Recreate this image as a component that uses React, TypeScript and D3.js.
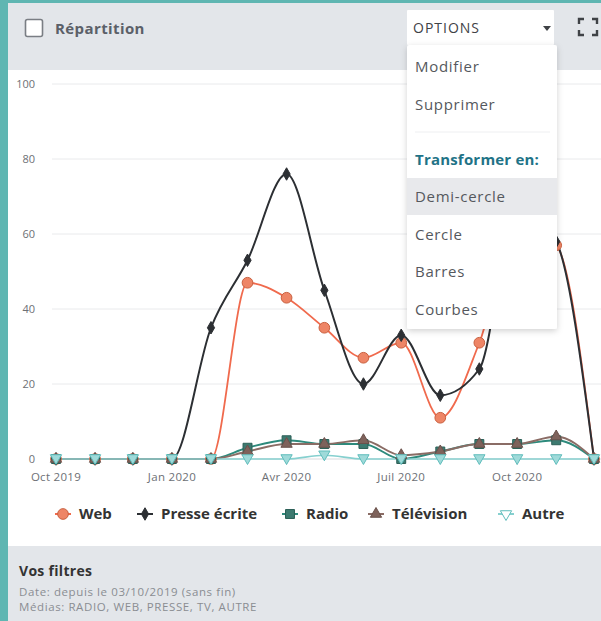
import React from "react";
import * as d3 from "d3";

const monthDates = [
  "2019-10-01", "2019-11-01", "2019-12-01", "2020-01-01", "2020-02-01",
  "2020-03-01", "2020-04-01", "2020-05-01", "2020-06-01", "2020-07-01",
  "2020-08-01", "2020-09-01", "2020-10-01", "2020-11-01", "2020-12-01",
];
const webValues = [0, 0, 0, 0, 0, 47, 43, 35, 27, 31, 11, 31, 62, 57, 0];
const presseValues = [0, 0, 0, 0, 35, 53, 76, 45, 20, 33, 17, 24, 68, 58, 0];
const radioValues = [0, 0, 0, 0, 0, 3, 5, 4, 4, 0, 2, 4, 4, 5, 0];
const tvValues = [0, 0, 0, 0, 0, 2, 4, 4, 5, 1, 2, 4, 4, 6, 0];
const autreValues = [0, 0, 0, 0, 0, 0, 0, 1, 0, 0, 0, 0, 0, 0, 0];

const yTicks = [0, 20, 40, 60, 80, 100];
const xTickDates = ["2019-10-01", "2020-01-01", "2020-04-01", "2020-07-01", "2020-10-01"];
const xTickLabels = ["Oct 2019", "Jan 2020", "Avr 2020", "Juil 2020", "Oct 2020"];

const seriesNames = ["Web", "Presse écrite", "Radio", "Télévision", "Autre"];
const menuTop = ["Modifier", "Supprimer"];
const menuHeading = "Transformer en:";
const menuTypes = ["Demi-cercle", "Cercle", "Barres", "Courbes"];
const filterLines = ["Date: depuis le 03/10/2019 (sans fin)", "Médias: RADIO, WEB, PRESSE, TV, AUTRE"];

const FONT = "'Open Sans', 'Noto Sans', sans-serif";

type Series = {
  name: string;
  values: number[];
  line: string;
  fill: string;
  stroke: string;
  symbol: d3.SymbolType;
  size: number;
  rotate: number;
  width: number;
};

const series: Series[] = [
  { name: seriesNames[0], values: webValues, line: "#f06a4d", fill: "#ee8566", stroke: "#c9603f", symbol: d3.symbolCircle, size: 90, rotate: 0, width: 1.8 },
  { name: seriesNames[1], values: presseValues, line: "#2c2f33", fill: "#2c2f33", stroke: "#2c2f33", symbol: d3.symbolDiamond, size: 45, rotate: 0, width: 2 },
  { name: seriesNames[2], values: radioValues, line: "#2d8a7c", fill: "#3d7a70", stroke: "#2b5f57", symbol: d3.symbolSquare, size: 80, rotate: 0, width: 2 },
  { name: seriesNames[3], values: tvValues, line: "#8a6c65", fill: "#7e625b", stroke: "#6a514b", symbol: d3.symbolTriangle, size: 55, rotate: 0, width: 2 },
  { name: seriesNames[4], values: autreValues, line: "#86d0cf", fill: "#9fdad9", stroke: "#5fbdbc", symbol: d3.symbolTriangle, size: 55, rotate: 180, width: 1.6 },
];

const legendX = [63, 145, 290, 376, 506];

export default function App() {
  const W = 601;
  const H = 621;
  const parse = d3.timeParse("%Y-%m-%d");
  const dates = monthDates.map((d) => parse(d) as Date);

  const x = d3.scaleTime().domain([dates[0], dates[dates.length - 1]]).range([56, 594]);
  const y = d3.scaleLinear().domain([0, 100]).range([459, 84]);

  const line = d3
    .line<number>()
    .x((_, i) => x(dates[i]))
    .y((v) => y(v))
    .curve(d3.curveMonotoneX);

  const sym = (s: Series) => d3.symbol().type(s.symbol).size(s.size)() as string;

  return (
    <svg width={W} height={H} style={{ position: "absolute", left: 0, top: 0 }} fontFamily={FONT}>
      <defs>
        <filter id="shadow" x="-20%" y="-10%" width="140%" height="130%">
          <feDropShadow dx="0" dy="2" stdDeviation="3" floodColor="#000" floodOpacity="0.18" />
        </filter>
      </defs>
      <rect x={0} y={0} width={W} height={H} fill="#5fb6b2" />
      <rect x={8} y={3} width={W - 8} height={H - 3} fill="#ffffff" />
      {/* header */}
      <rect x={8} y={3} width={W - 8} height={67} fill="#e3e6ea" />
      <rect x={25.5} y={19.5} width={17} height={17} rx={2} fill="#fff" stroke="#7a7e84" strokeWidth={1.6} />
      <text x={55} y={33.5} fontSize={15} fontWeight={700} fill="#5b6068" letterSpacing={0.4}>Répartition</text>
      <rect x={407} y={10} width={147} height={35} fill="#ffffff" rx={1} />
      <text x={413} y={33} fontSize={14} fill="#3f4246" letterSpacing={1}>OPTIONS</text>
      <path d="M543,26 L551,26 L547,31 Z" fill="#3f4246" />
      <g stroke="#3f4246" strokeWidth={2.4} fill="none">
        <path d="M579,24 L579,19 L584,19" />
        <path d="M592,19 L597,19 L597,24" />
        <path d="M579,30 L579,35 L584,35" />
        <path d="M592,35 L597,35 L597,30" />
      </g>

      {/* grid */}
      {yTicks.map((t) => (
        <g key={t}>
          {t > 0 && <line x1={52} x2={W} y1={y(t)} y2={y(t)} stroke="#e9eaec" strokeWidth={1} />}
          <text x={35} y={y(t) + 4} fontSize={11} fill="#6d7075" textAnchor="end">{t}</text>
        </g>
      ))}
      <line x1={52} x2={W} y1={y(0)} y2={y(0)} stroke="#d8dadd" strokeWidth={1} />
      {xTickDates.map((d, i) => {
        const xx = x(parse(d) as Date);
        return (
          <g key={d}>
            <line x1={xx} x2={xx} y1={y(0)} y2={y(0) + 6} stroke="#d8dadd" />
            <text x={xx} y={481} fontSize={11.5} fill="#6d7075" textAnchor="middle" letterSpacing={0.3}>{xTickLabels[i]}</text>
          </g>
        );
      })}

      {/* lines */}
      {series.map((s) => (
        <path key={s.name} d={line(s.values) as string} fill="none" stroke={s.line} strokeWidth={s.width} />
      ))}
      {series.map((s) => (
        <g key={s.name + "m"}>
          {s.values.map((v, i) => (
            <path
              key={i}
              d={sym(s)}
              transform={`translate(${x(dates[i])},${y(v) + (s.rotate ? -1 : 0)}) rotate(${s.rotate})`}
              fill={s.fill}
              stroke={s.stroke}
              strokeWidth={1}
            />
          ))}
        </g>
      ))}

      {/* legend */}
      {series.map((s, i) => (
        <g key={s.name + "l"} transform={`translate(${legendX[i]},514)`}>
          <line x1={-8} x2={8} y1={0} y2={0} stroke={s.line} strokeWidth={2} />
          <path
            d={sym(s)}
            transform={`rotate(${s.rotate})`}
            fill={s.rotate ? "#ffffff" : s.fill}
            stroke={s.stroke}
            strokeWidth={1}
          />
          <text x={16} y={5} fontSize={15} fontWeight={700} fill="#333">{s.name}</text>
        </g>
      ))}

      {/* footer */}
      <rect x={8} y={546} width={W - 8} height={H - 546} fill="#e3e6ea" />
      <text x={19} y={576} fontSize={14} fontWeight={700} fill="#333" letterSpacing={0.3}>Vos filtres</text>
      {filterLines.map((t, i) => (
        <text key={t} x={19} y={596 + i * 15} fontSize={11.5} fill="#8a8d92" letterSpacing={0.6}>{t}</text>
      ))}

      {/* dropdown menu */}
      <rect x={407} y={45} width={150} height={284} fill="#ffffff" filter="url(#shadow)" rx={2} />
      {menuTop.map((t, i) => (
        <text key={t} x={415} y={72 + i * 37.5} fontSize={15} fill="#55585d" letterSpacing={0.7}>{t}</text>
      ))}
      <line x1={415} x2={550} y1={132} y2={132} stroke="#eeeff1" />
      <text x={415} y={165} fontSize={15} fontWeight={700} fill="#1f7387" letterSpacing={0.2}>{menuHeading}</text>
      <rect x={407} y={178} width={150} height={37} fill="#e8e9ec" />
      {menuTypes.map((t, i) => (
        <text key={t} x={415} y={202 + i * 37.5} fontSize={15} fill="#55585d" letterSpacing={0.7}>{t}</text>
      ))}
    </svg>
  );
}
